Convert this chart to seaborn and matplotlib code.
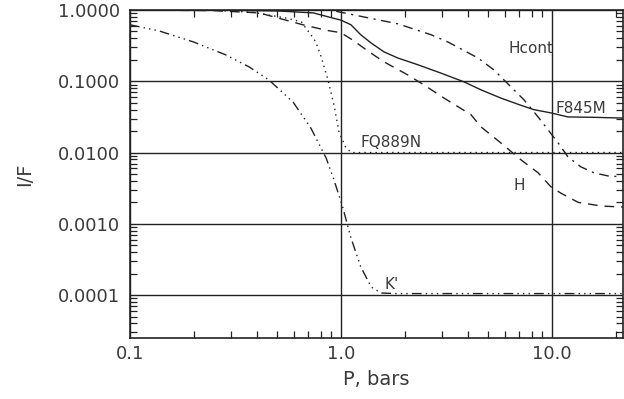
import numpy as np
import pandas as pd
import matplotlib
matplotlib.use("Agg")
import matplotlib.pyplot as plt
import seaborn as sns
from matplotlib.ticker import LogLocator, NullFormatter, FixedLocator, FixedFormatter

sns.set_theme(style="white")
plt.rcParams['font.family'] = ['DejaVu Sans']

# ---- data ----
f845m_p = [0.1, 0.3, 0.5, 0.74, 0.916, 1.0, 1.115, 1.24, 1.39, 1.6, 1.86, 2.32, 2.98,
           3.83, 4.6, 5.73, 7.13, 8.2, 9.89, 11.9, 15.8, 20.5, 22.0]
f845m_v = [1.0, 0.99, 0.97, 0.91, 0.77, 0.72, 0.62, 0.45, 0.344, 0.258, 0.212, 0.17, 0.13,
           0.098, 0.076, 0.058, 0.046, 0.040, 0.036, 0.0316, 0.0312, 0.0306, 0.0305]

hcont_p = [0.1, 0.5, 0.9, 1.28, 1.86, 2.67, 3.21, 4.46, 5.31, 6.4, 7.36, 8.59, 9.58,
           10.7, 11.9, 13.7, 15.8, 18.4, 20.5, 22.0]
hcont_v = [1.0, 1.0, 0.99, 0.80, 0.64, 0.45, 0.356, 0.212, 0.144, 0.083, 0.055, 0.0316, 0.0208,
           0.0136, 0.0087, 0.0063, 0.0052, 0.0047, 0.0046, 0.0046]

fq889n_p = [0.1, 0.25, 0.38, 0.55, 0.65, 0.68, 0.72, 0.76, 0.80, 0.868, 0.927, 0.978,
            1.056, 1.12, 22.0]
fq889n_v = [1.0, 0.99, 0.93, 0.77, 0.68, 0.56, 0.45, 0.355, 0.234, 0.104, 0.046, 0.0195,
            0.0116, 0.0100, 0.0100]

h_p = [0.1, 0.25, 0.41, 0.66, 0.85, 1.0, 1.15, 1.34, 1.6, 2.08, 2.47, 3.08, 4.13, 4.6,
       5.73, 7.13, 8.59, 9.89, 11.0, 13.3, 17.1, 20.5, 22.0]
h_v = [1.0, 0.98, 0.91, 0.62, 0.52, 0.48, 0.37, 0.266, 0.187, 0.122, 0.089, 0.058, 0.034, 0.023,
       0.0136, 0.0079, 0.0052, 0.0033, 0.0027, 0.0020, 0.00178, 0.00173, 0.00172]

kp_p = [0.1, 0.137, 0.2, 0.285, 0.367, 0.456, 0.593, 0.72, 0.85, 0.927, 1.02, 1.11,
        1.24, 1.39, 1.55, 1.8, 22.0]
kp_v = [0.62, 0.51, 0.356, 0.234, 0.159, 0.104, 0.051, 0.022, 0.0084, 0.0041, 0.0017, 0.00066,
        0.00025, 0.00013, 0.000107, 0.000105, 0.000105]

series_names = ["F845M", "Hcont", "FQ889N", "H", "K'"]
label_p = [13.7, 7.95, 1.73, 6.97, 1.73]
label_v = [0.042, 0.29, 0.014, 0.0035, 0.000139]

xticks = [0.1, 1.0, 10.0]
xticklabels = ["0.1", "1.0", "10.0"]
yticks = [1.0, 0.1, 0.01, 0.001, 0.0001]
yticklabels = ["1.0000", "0.1000", "0.0100", "0.0010", "0.0001"]

ink = "#222222"
txt = "#3a3a3a"
styles = {
    "F845M": "-",
    "Hcont": (0, (7, 4, 1.5, 4)),
    "FQ889N": (0, (1, 3)),
    "H": (0, (7, 5)),
    "K'": (0, (7, 3, 1, 3, 1, 3, 1, 3)),
}
data = {
    "F845M": (f845m_p, f845m_v),
    "Hcont": (hcont_p, hcont_v),
    "FQ889N": (fq889n_p, fq889n_v),
    "H": (h_p, h_v),
    "K'": (kp_p, kp_v),
}

fig = plt.figure(figsize=(6.24, 3.99), dpi=100)
ax = fig.add_axes([130/624, 1-338/399, 493/624, 328/399])
ax.set_xscale("log")
ax.set_yscale("log")

for name in series_names:
    p, v = data[name]
    df = pd.DataFrame({"P": p, "IF": v})
    sns.lineplot(data=df, x="P", y="IF", ax=ax, color=ink, lw=1.0,
                 linestyle=styles[name], sort=False, estimator=None)

for name, lp, lv in zip(series_names, label_p, label_v):
    ax.text(lp, lv, name, ha="center", va="center", fontsize=11, color=txt)

ax.set_xlim(0.1, 21.7)
ax.set_ylim(2.5e-5, 1.0)

ax.xaxis.set_major_locator(FixedLocator(xticks))
ax.xaxis.set_major_formatter(FixedFormatter(xticklabels))
ax.yaxis.set_major_locator(FixedLocator(yticks))
ax.yaxis.set_major_formatter(FixedFormatter(yticklabels))
ax.xaxis.set_minor_locator(LogLocator(base=10, subs=np.arange(2, 10)))
ax.yaxis.set_minor_locator(LogLocator(base=10, subs=np.arange(2, 10)))
ax.xaxis.set_minor_formatter(NullFormatter())
ax.yaxis.set_minor_formatter(NullFormatter())

ax.grid(True, which="major", color=ink, lw=1.0)
ax.tick_params(which="major", length=0, labelsize=13, labelcolor=txt)
ax.tick_params(axis="x", which="major", pad=5)
ax.tick_params(axis="y", which="major", pad=7)
ax.tick_params(which="minor", direction="in", length=5, width=0.9, color=ink,
               top=True, right=True, bottom=True, left=True)
for s in ax.spines.values():
    s.set_color(ink)
    s.set_linewidth(1.2)

ax.set_xlabel("P, bars", fontsize=14, color=txt, labelpad=5)
ax.set_ylabel("I/F", fontsize=14, color=txt, labelpad=17)

fig.savefig("out.png", dpi=100)
